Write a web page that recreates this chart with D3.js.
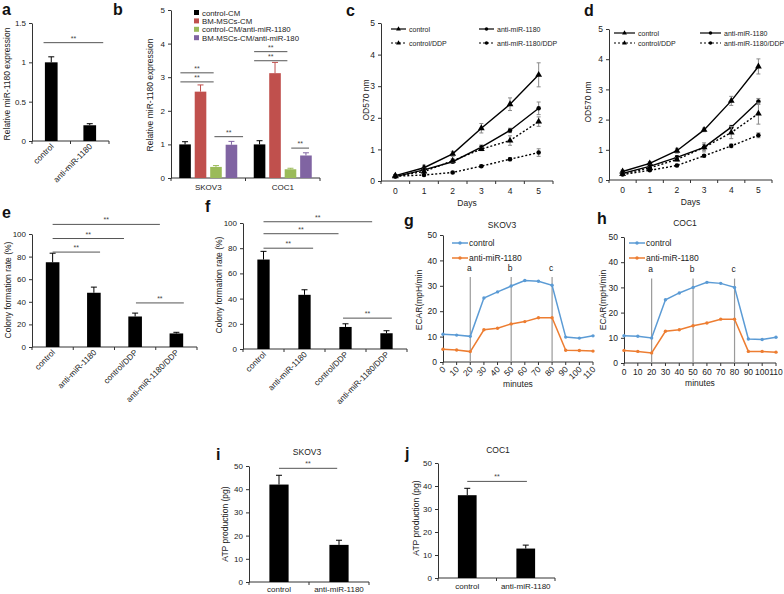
<!DOCTYPE html>
<html>
<head>
<meta charset="utf-8">
<script src="https://cdn.jsdelivr.net/npm/d3@7"></script>
<style>
  body { margin: 0; background: #fff; }
  svg { font-family: "Liberation Sans", Arial, sans-serif; }
</style>
</head>
<body>
<svg id="fig" width="784" height="594"></svg>
<script>
// ---- data ----
const aCats = ["control", "anti-miR-1180"];
const aVals = [1.0, 0.2];
const aErr = [0.07, 0.02];

const bGroups = ["SKOV3", "COC1"];
const bSeries = ["control-CM", "BM-MSCs-CM", "control-CM/anti-miR-1180", "BM-MSCs-CM/anti-miR-180"];
const bSkov3 = [1.0, 2.57, 0.33, 0.99];
const bCoc1 = [1.0, 3.12, 0.26, 0.67];
const bSkov3Err = [0.08, 0.2, 0.04, 0.1];
const bCoc1Err = [0.11, 0.32, 0.03, 0.08];

const days = [0, 1, 2, 3, 4, 5];
const odSeries = ["control", "anti-miR-1180", "control/DDP", "anti-miR-1180/DDP"];
const cControl = [0.17, 0.42, 0.86, 1.67, 2.43, 3.36];
const cAnti = [0.14, 0.35, 0.61, 1.07, 1.6, 2.3];
const cControlDDP = [0.15, 0.3, 0.64, 1.01, 1.28, 1.88];
const cAntiDDP = [0.15, 0.19, 0.27, 0.47, 0.69, 0.9];
const cControlErr = [0.03, 0.08, 0.08, 0.15, 0.2, 0.38];
const cAntiErr = [0.02, 0.05, 0.05, 0.07, 0.07, 0.2];
const cControlDDPErr = [0.02, 0.04, 0.06, 0.05, 0.15, 0.15];
const cAntiDDPErr = [0.02, 0.03, 0.03, 0.04, 0.05, 0.12];
const dControl = [0.28, 0.55, 0.97, 1.66, 2.62, 3.76];
const dAnti = [0.22, 0.45, 0.75, 1.08, 1.75, 2.6];
const dControlDDP = [0.2, 0.4, 0.68, 1.08, 1.57, 2.2];
const dAntiDDP = [0.18, 0.32, 0.48, 0.8, 1.13, 1.48];
const dControlErr = [0.05, 0.05, 0.08, 0.06, 0.15, 0.25];
const dAntiErr = [0.03, 0.04, 0.06, 0.15, 0.06, 0.1];
const dControlDDPErr = [0.03, 0.04, 0.05, 0.1, 0.2, 0.35];
const dAntiDDPErr = [0.02, 0.03, 0.04, 0.04, 0.06, 0.08];

const colonyCats = ["control", "anti-miR-1180", "control/DDP", "anti-miR-1180/DDP"];
const eVals = [75, 48, 27, 12];
const eErr = [8, 5, 3, 1];
const fVals = [71, 43, 17.5, 12.5];
const fErr = [6.5, 4, 2.5, 2];

const minutes = [0, 10, 20, 30, 40, 50, 60, 70, 80, 90, 100, 110];
const ecarSeries = ["control", "anti-miR-1180"];
const gControl = [10.9, 10.6, 10.1, 25.2, 27.6, 29.9, 32.1, 31.8, 30.2, 9.8, 9.4, 10.3];
const gAnti = [5.0, 4.7, 4.1, 12.7, 13.3, 15.0, 15.9, 17.4, 17.4, 4.6, 4.5, 4.3];
const hControl = [10.8, 10.6, 9.9, 25.1, 27.8, 30.0, 32.0, 31.6, 30.0, 9.5, 9.3, 10.2];
const hAnti = [5.0, 4.6, 4.0, 12.6, 13.2, 14.8, 15.9, 17.4, 17.4, 4.6, 4.6, 4.3];
const injections = ["a", "b", "c"];
const injectionTimes = [20, 50, 80];

const atpCats = ["control", "anti-miR-1180"];
const iVals = [42, 16];
const iErr = [4, 2];
const jVals = [36, 12.8];
const jErr = [3, 1.5];

// significance brackets: [from, to, level] (category units, data units)
const aSig = [[-0.2, 1.35, 1.25]];
const eSig = [[0, 2.6, 108.5], [0, 1.73, 96], [0, 1.15, 84], [2.02, 3.18, 39]];
const fSig = [[0, 2.65, 101], [0, 1.83, 91.5], [0, 1.21, 80], [1.94, 3.13, 24.5]];
const iSig = [[0, 0.97, 49]];
const jSig = [[0, 1.02, 42]];
const bSig = [[0, -0.3, 1.85, 3.13], [0, -0.3, 1.85, 2.86], [0, 1.9, 3.75, 1.23],
              [1, -0.35, 1.8, 3.76], [1, -0.35, 1.8, 3.49], [1, 2.05, 3.2, 0.89]];

const svg = d3.select("#fig");
const ink = "#222";

function letter(t, x, y) {
  svg.append("text").attr("x", x).attr("y", y).attr("font-size", 16)
    .attr("font-weight", "bold").attr("fill", "#111").text(t);
}

function yLabel(t, x, yc, size) {
  svg.append("text").attr("transform", `translate(${x},${yc}) rotate(-90)`)
    .attr("text-anchor", "middle").attr("font-size", size || 8.5).attr("fill", ink).text(t);
}

function yAxis(y, x0, ticks, fmt, size) {
  svg.append("g").attr("transform", `translate(${x0},0)`)
    .call(d3.axisLeft(y).tickValues(ticks).tickSize(3).tickSizeOuter(0).tickPadding(3)
      .tickFormat(fmt || d3.format("")))
    .attr("font-family", null).attr("font-size", size || 8)
    .call(g => g.selectAll("text").attr("fill", ink))
    .call(g => g.selectAll("line,path").attr("stroke", "#333"));
}

function xBase(x0, x1, y0, tickXs) {
  const g = svg.append("g").attr("stroke", "#333");
  g.append("line").attr("x1", x0).attr("x2", x1).attr("y1", y0).attr("y2", y0);
  tickXs.forEach(t => g.append("line").attr("x1", t).attr("x2", t).attr("y1", y0).attr("y2", y0 + 3));
}

function errBar(cx, yTop, yBot, color, cap) {
  const g = svg.append("g").attr("stroke", color).attr("stroke-width", 1);
  g.append("line").attr("x1", cx).attr("x2", cx).attr("y1", yTop).attr("y2", yBot);
  g.append("line").attr("x1", cx - cap).attr("x2", cx + cap).attr("y1", yTop).attr("y2", yTop);
}

function sigLine(xa, xb, yy) {
  svg.append("line").attr("x1", xa).attr("x2", xb).attr("y1", yy).attr("y2", yy)
    .attr("stroke", "#555").attr("stroke-width", 1);
  svg.append("text").attr("x", (xa + xb) / 2).attr("y", yy - 2).attr("text-anchor", "middle")
    .attr("font-size", 7).attr("fill", "#444").text("**");
}

function barPanel(o) {
  const x = d3.scaleBand().domain(o.cats).range([o.x0, o.x1])
    .paddingInner(o.pad).paddingOuter(o.pad / 2);
  const y = d3.scaleLinear().domain([0, o.max]).range([o.y0, o.y1]);
  yAxis(y, o.x0, d3.range(0, o.max + o.step / 2, o.step), o.fmt);
  xBase(o.x0, o.x1, o.y0, d3.range(o.cats.length + 1).map(i => o.x0 + i * x.step()));
  const cx = c => x(c) + x.bandwidth() / 2;
  o.cats.forEach((c, i) => {
    svg.append("rect").attr("x", x(c)).attr("width", x.bandwidth())
      .attr("y", y(o.vals[i])).attr("height", y(0) - y(o.vals[i])).attr("fill", "#000");
    errBar(cx(c), y(o.vals[i] + o.errs[i]), y(o.vals[i]), "#000", 3);
    if (o.rotate) {
      svg.append("text").attr("transform", `translate(${cx(c) + 3},${o.y0 + 6}) rotate(-45)`)
        .attr("text-anchor", "end").attr("font-size", 8.2).attr("fill", ink).text(c);
    } else {
      svg.append("text").attr("x", cx(c)).attr("y", o.y0 + o.labelDy)
        .attr("text-anchor", "middle").attr("font-size", 8).attr("fill", ink).text(c);
    }
  });
  const first = cx(o.cats[0]);
  o.sig.forEach(([a, b, lv]) => sigLine(first + a * x.step(), first + b * x.step(), y(lv)));
  if (o.title) svg.append("text").attr("x", o.title[1]).attr("y", o.title[2])
    .attr("text-anchor", "middle").attr("font-size", 8.5).attr("fill", ink).text(o.title[0]);
}

// ---- a ----
letter("a", 2, 15);
yLabel("Relative  miR-1180 expression", 10, 84);
barPanel({ x0: 32, x1: 109, y0: 141, y1: 23, max: 1.5, step: 0.5, fmt: d3.format(""),
  cats: aCats, vals: aVals, errs: aErr, pad: 0.67, rotate: true, sig: aSig });

// ---- b ----
letter("b", 113, 15);
yLabel("Relative  miR-1180 expression", 153, 95);
(function () {
  const x0 = 171, x1 = 320, yb = 178, yt = 10;
  const bColors = ["#000000", "#c0504d", "#9bbb59", "#8064a2"];
  const gx = d3.scaleBand().domain(bGroups).range([x0, x1]);
  const sx = d3.scaleBand().domain(bSeries).range([-29, 29]).paddingInner(0.25);
  const y = d3.scaleLinear().domain([0, 5]).range([yb, yt]);
  yAxis(y, x0, d3.range(0, 6), d3.format(""));
  xBase(x0, x1, yb, [x0, x0 + gx.step(), x1]);
  const vals = [bSkov3, bCoc1], errs = [bSkov3Err, bCoc1Err];
  bGroups.forEach((g, gi) => {
    const gc = gx(g) + gx.bandwidth() / 2;
    bSeries.forEach((s, si) => {
      const v = vals[gi][si];
      svg.append("rect").attr("x", gc + sx(s)).attr("width", sx.bandwidth())
        .attr("y", y(v)).attr("height", y(0) - y(v)).attr("fill", bColors[si]);
      errBar(gc + sx(s) + sx.bandwidth() / 2, y(v + errs[gi][si]), y(v), bColors[si], 3);
    });
    svg.append("text").attr("x", gc).attr("y", yb + 12).attr("text-anchor", "middle")
      .attr("font-size", 8).attr("fill", ink).text(g);
  });
  bSig.forEach(([gi, a, b, lv]) => {
    const gc = gx(bGroups[gi]) + gx.bandwidth() / 2;
    sigLine(gc + (a - 1.5) * sx.step(), gc + (b - 1.5) * sx.step(), y(lv));
  });
  bSeries.forEach((s, i) => {
    svg.append("rect").attr("x", 194).attr("y", 10 + i * 8.4).attr("width", 5).attr("height", 5).attr("fill", bColors[i]);
    svg.append("text").attr("x", 202).attr("y", 15.5 + i * 8.4).attr("font-size", 7.8).attr("fill", ink).text(s);
  });
})();

// ---- c / d ----
function odPanel(o) {
  const x = d3.scaleBand().domain(days).range([o.x0, o.x1]);
  const cx = d => x(d) + x.bandwidth() / 2;
  const y = d3.scaleLinear().domain([0, 5]).range([o.y0, o.y1]);
  yAxis(y, o.x0, d3.range(0, 6), d3.format(""), 8.5);
  xBase(o.x0, o.x1, o.y0, d3.range(days.length + 1).map(i => o.x0 + i * x.step()));
  days.forEach(d => svg.append("text").attr("x", cx(d)).attr("y", o.y0 + 13)
    .attr("text-anchor", "middle").attr("font-size", 8.5).attr("fill", ink).text(d));
  svg.append("text").attr("x", (o.x0 + o.x1) / 2).attr("y", o.y0 + 25)
    .attr("text-anchor", "middle").attr("font-size", 8.5).attr("fill", ink).text("Days");
  const dashes = [null, null, "2,2", "2,2"];
  const shapes = [d3.symbolTriangle, d3.symbolCircle, d3.symbolTriangle, d3.symbolCircle];
  const line = d3.line().x((v, i) => cx(days[i])).y(v => y(v));
  o.series.forEach((vals, si) => {
    vals.forEach((v, i) => {
      const e = o.errs[si][i];
      errBar(cx(days[i]), y(v + e), y(v - e), "#8a8a8a", 2);
      svg.append("line").attr("x1", cx(days[i]) - 2).attr("x2", cx(days[i]) + 2)
        .attr("y1", y(v - e)).attr("y2", y(v - e)).attr("stroke", "#8a8a8a");
    });
    svg.append("path").attr("d", line(vals)).attr("fill", "none").attr("stroke", "#000")
      .attr("stroke-width", 1.4).attr("stroke-dasharray", dashes[si]);
    vals.forEach((v, i) => svg.append("path")
      .attr("d", d3.symbol().type(shapes[si]).size(si % 2 ? 16 : 20)())
      .attr("transform", `translate(${cx(days[i])},${y(v)})`).attr("fill", "#000"));
  });
  odSeries.forEach((s, si) => {
    const lx = si % 2 ? o.leg[1] : o.leg[0];
    const ly = si < 2 ? o.leg[2] : o.leg[3];
    svg.append("line").attr("x1", lx).attr("x2", lx + o.leg[4]).attr("y1", ly).attr("y2", ly)
      .attr("stroke", "#000").attr("stroke-width", 1.2).attr("stroke-dasharray", dashes[si]);
    svg.append("path").attr("d", d3.symbol().type(shapes[si]).size(10)())
      .attr("transform", `translate(${lx + o.leg[4] / 2},${ly})`).attr("fill", "#000");
    svg.append("text").attr("x", lx + o.leg[4] + 3).attr("y", ly + 2.6)
      .attr("font-size", 7).attr("fill", ink).text(s);
  });
}

letter("c", 346, 16);
yLabel("OD570  nm", 369, 100);
odPanel({ x0: 381, x1: 553, y0: 181, y1: 23,
  series: [cControl, cAnti, cControlDDP, cAntiDDP],
  errs: [cControlErr, cAntiErr, cControlDDPErr, cAntiDDPErr],
  leg: [391, 479, 29, 43, 15] });

letter("d", 584, 16);
yLabel("OD570  nm", 591, 102);
odPanel({ x0: 609, x1: 772, y0: 180, y1: 29,
  series: [dControl, dAnti, dControlDDP, dAntiDDP],
  errs: [dControlErr, dAntiErr, dControlDDPErr, dAntiDDPErr],
  leg: [614, 700, 33, 43, 21] });

// ---- e / f ----
letter("e", 2, 218);
yLabel("Colony formation rate (%)", 11, 290);
barPanel({ x0: 32, x1: 197, y0: 347, y1: 234, max: 100, step: 20,
  cats: colonyCats, vals: eVals, errs: eErr, pad: 0.67, rotate: true, sig: eSig });

letter("f", 205, 212);
yLabel("Colony formation rate (%)", 222, 285);
barPanel({ x0: 243, x1: 407, y0: 349, y1: 223, max: 100, step: 20,
  cats: colonyCats, vals: fVals, errs: fErr, pad: 0.7, rotate: true, sig: fSig });

// ---- g / h ----
function ecarPanel(o) {
  const x = d3.scaleLinear().domain([0, 110]).range([o.x0, o.x1]);
  const y = d3.scaleLinear().domain([0, 50]).range([o.y0, o.y1]);
  yAxis(y, o.x0, d3.range(0, 51, 10), d3.format(""), 8.5);
  xBase(o.x0, o.x1, o.y0, minutes.map(x));
  minutes.forEach(m => {
    if (o.rotate) {
      svg.append("text").attr("transform", `translate(${x(m) + 3},${o.y0 + 8}) rotate(-45)`)
        .attr("text-anchor", "end").attr("font-size", 8.5).attr("fill", ink).text(m);
    } else {
      svg.append("text").attr("x", x(m)).attr("y", o.y0 + 12).attr("text-anchor", "middle")
        .attr("font-size", 8.5).attr("fill", ink).text(m);
    }
  });
  svg.append("text").attr("x", (o.x0 + o.x1) / 2).attr("y", o.xlabY)
    .attr("text-anchor", "middle").attr("font-size", 8.5).attr("fill", ink).text("minutes");
  svg.append("text").attr("x", o.title[1]).attr("y", o.title[2]).attr("text-anchor", "middle")
    .attr("font-size", 8.5).attr("fill", ink).text(o.title[0]);
  injections.forEach((lab, i) => {
    const xx = x(injectionTimes[i]);
    svg.append("line").attr("x1", xx).attr("x2", xx).attr("y1", y(33.5)).attr("y2", o.y0)
      .attr("stroke", "#9a9a9a").attr("stroke-width", 1.2);
    svg.append("text").attr("x", xx - 1).attr("y", y(36)).attr("text-anchor", "middle")
      .attr("font-size", 8.5).attr("fill", ink).text(lab);
  });
  const colors = ["#5b9bd5", "#ed7d31"];
  const line = d3.line().x((v, i) => x(minutes[i])).y(v => y(v));
  o.series.forEach((vals, si) => {
    svg.append("path").attr("d", line(vals)).attr("fill", "none")
      .attr("stroke", colors[si]).attr("stroke-width", 1.5);
    vals.forEach((v, i) => svg.append("circle").attr("cx", x(minutes[i])).attr("cy", y(v))
      .attr("r", 1.7).attr("fill", colors[si]));
    const ly = o.leg[1] + si * 15;
    svg.append("line").attr("x1", o.leg[0]).attr("x2", o.leg[0] + 16).attr("y1", ly).attr("y2", ly)
      .attr("stroke", colors[si]).attr("stroke-width", 1.5);
    svg.append("circle").attr("cx", o.leg[0] + 8).attr("cy", ly).attr("r", 1.7).attr("fill", colors[si]);
    svg.append("text").attr("x", o.leg[0] + 17).attr("y", ly + 3).attr("font-size", 8.5)
      .attr("fill", ink).text(ecarSeries[si]);
  });
}

letter("g", 404, 226);
yLabel("ECAR(mpH/min", 422, 300);
ecarPanel({ x0: 443, x1: 593, y0: 362, y1: 235, rotate: true, xlabY: 387,
  title: ["SKOV3", 502, 228], leg: [452, 243], series: [gControl, gAnti] });

letter("h", 597, 224);
yLabel("ECAR(mpH/min", 606, 300);
ecarPanel({ x0: 624, x1: 776, y0: 363, y1: 237, rotate: false, xlabY: 386,
  title: ["COC1", 685, 226], leg: [629, 243], series: [hControl, hAnti] });

// ---- i / j ----
letter("i", 216, 460);
yLabel("ATP production (pg)", 228, 524);
barPanel({ x0: 249, x1: 369, y0: 582, y1: 466, max: 50, step: 10,
  cats: atpCats, vals: iVals, errs: iErr, pad: 0.68, rotate: false, labelDy: 10, sig: iSig,
  title: ["SKOV3", 307, 455] });

letter("j", 405, 459);
yLabel("ATP production (pg)", 419, 518);
barPanel({ x0: 438, x1: 555, y0: 578, y1: 463, max: 50, step: 10,
  cats: atpCats, vals: jVals, errs: jErr, pad: 0.68, rotate: false, labelDy: 11, sig: jSig,
  title: ["COC1", 498, 453] });
</script>
</body>
</html>
